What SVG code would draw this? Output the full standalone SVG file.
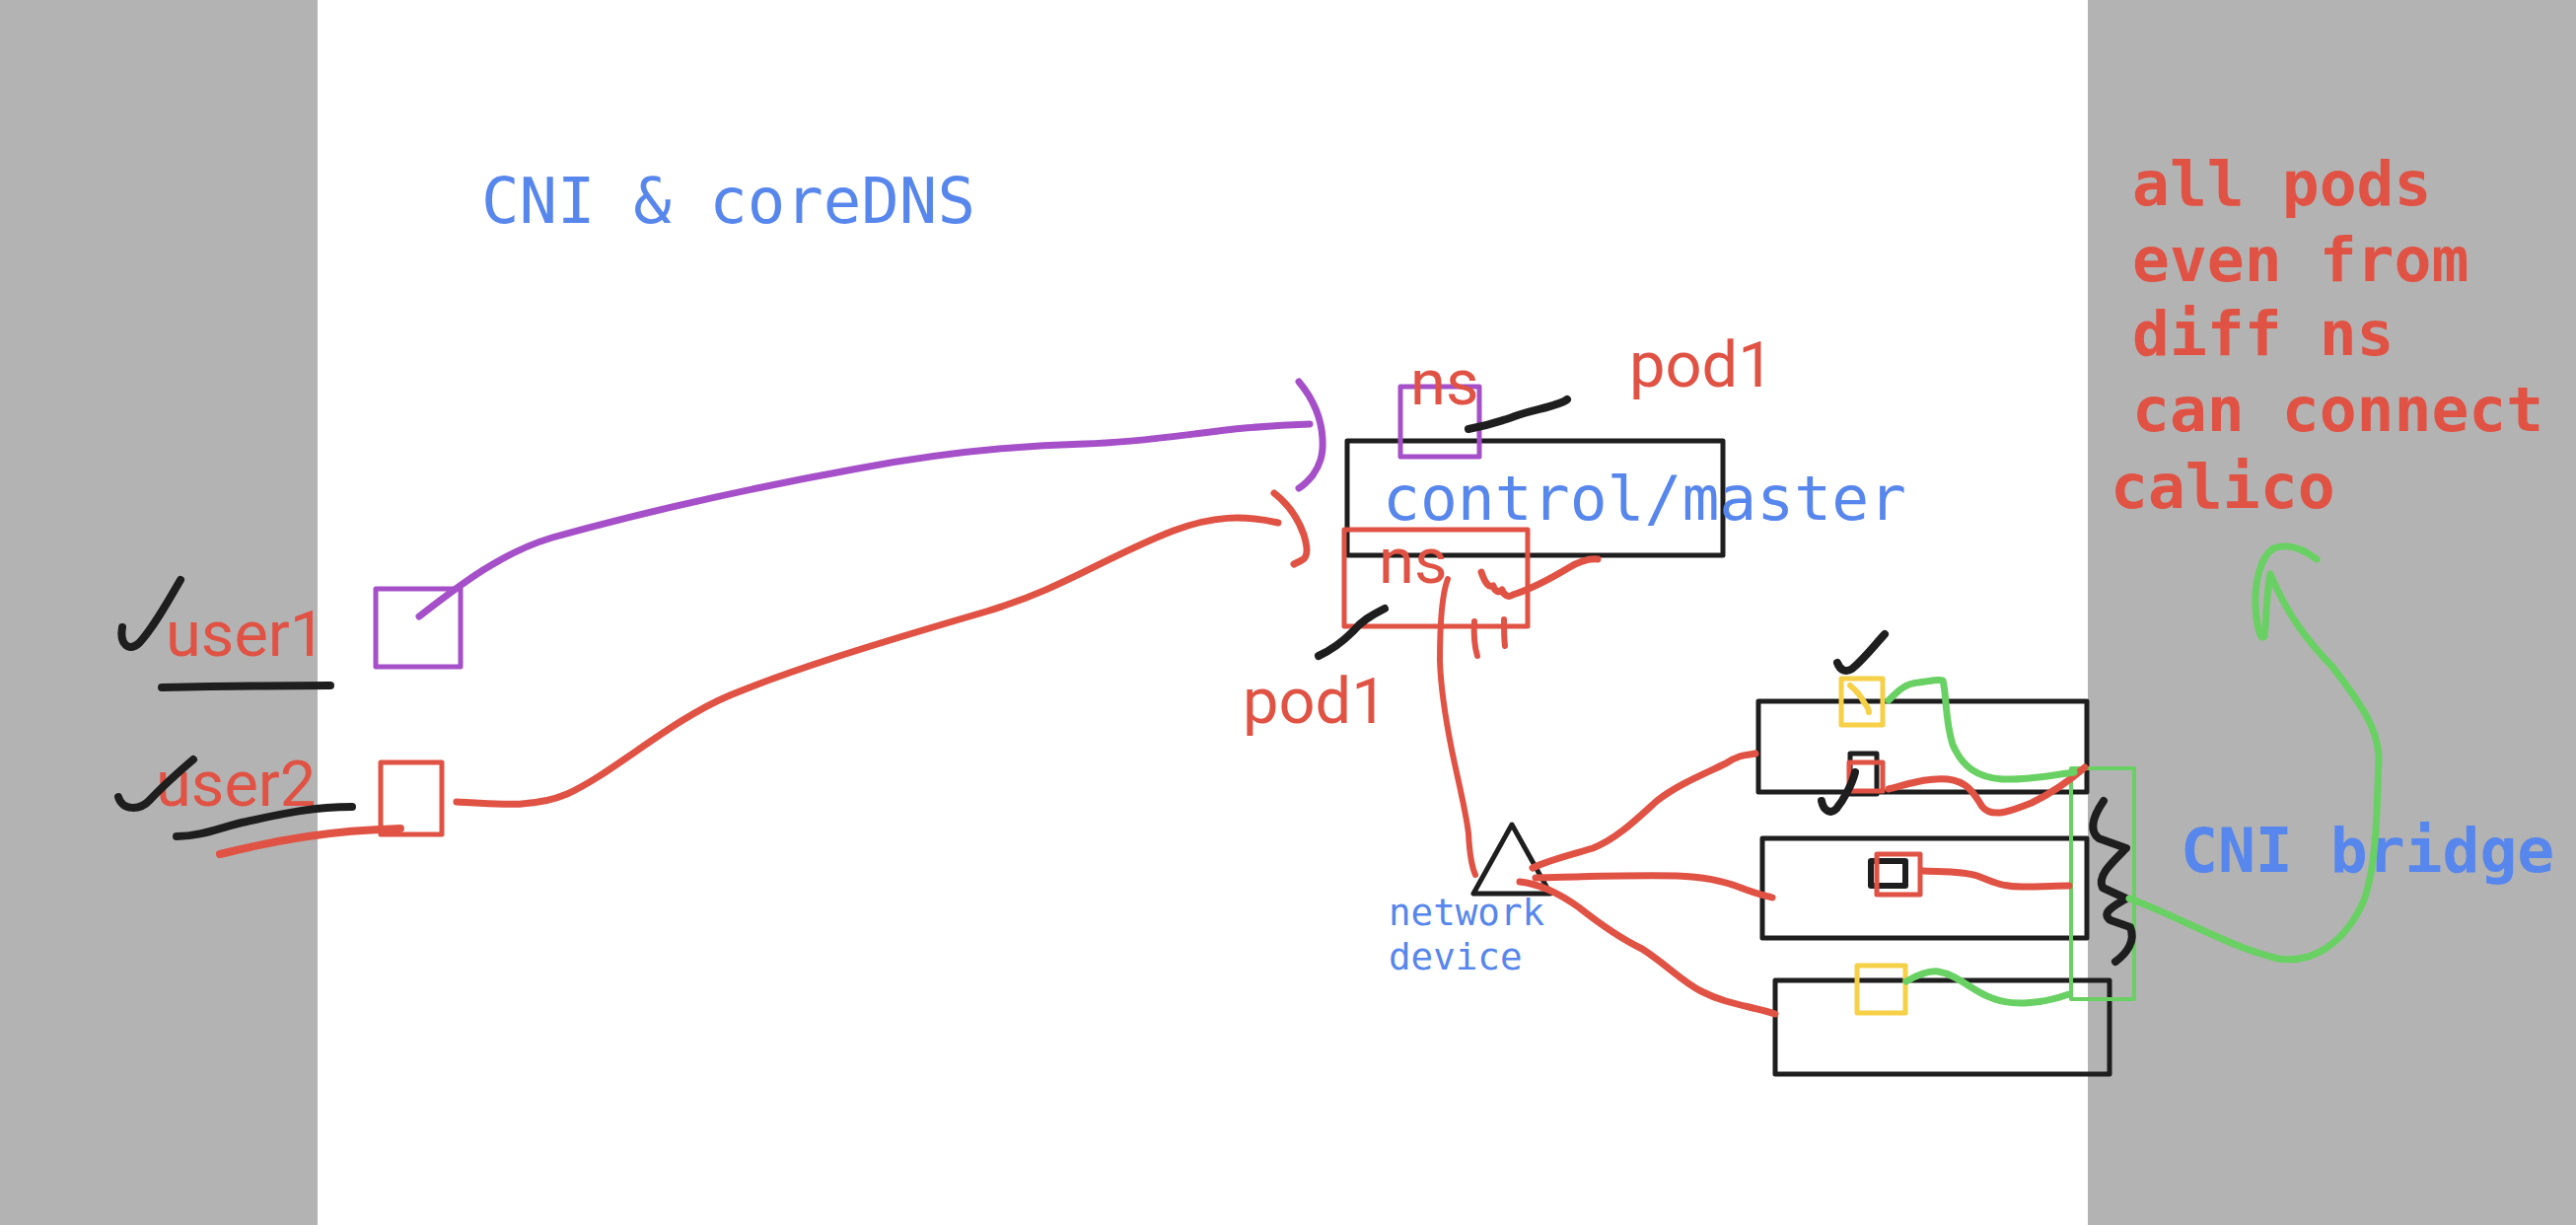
<svg xmlns="http://www.w3.org/2000/svg" width="2612" height="1242" viewBox="0 0 2612 1242">
<style>
.pen{fill:none;stroke-linecap:round;stroke-linejoin:round}
.blk{stroke:#1e1e1e}
.red{stroke:#e05244}
.pur{stroke:#a54fc8}
.grn{stroke:#69d163}
.yel{stroke:#f6d047}
.box{fill:none;stroke-linejoin:round}
.roboto{font-family:Roboto,'Liberation Sans',sans-serif;font-size:65px;fill:#e05244}
.mono{font-family:'DejaVu Sans Mono','Liberation Mono',monospace;fill:#5786ec}
.note{font-family:'DejaVu Sans Mono','Liberation Mono',monospace;font-weight:bold;font-size:63px}
</style>
<rect x="0" y="0" width="2612" height="1242" fill="#ffffff"/>
<rect x="0" y="0" width="322" height="1242" fill="#b3b3b3"/>
<rect x="2117" y="0" width="495" height="1242" fill="#b3b3b3"/>

<g id="title">
<text class="mono" x="488" y="226" font-size="64">CNI &amp; coreDNS</text>
</g>

<g id="notes">
<text class="note" fill="#e05244" x="2162" y="208">all pods</text>
<text class="note" fill="#e05244" x="2162" y="285">even from</text>
<text class="note" fill="#e05244" x="2162" y="360">diff ns</text>
<text class="note" fill="#e05244" x="2162" y="437">can connect</text>
<text class="note" fill="#e05244" x="2140" y="515">calico</text>
</g>

<g id="user1">
<text class="roboto" x="168" y="665">user1</text>
<rect class="box pur" x="381" y="597" width="86" height="79" stroke-width="5"/>
<path class="pen blk" stroke-width="8" d="M124,636 C121,652 130,662 141,652 C156,636 170,610 183,588"/>
<path class="pen blk" stroke-width="8" d="M164,697 C220,696 280,695 335,695"/>
</g>

<g id="user2">
<text class="roboto" x="158" y="817">user2</text>
<rect class="box red" x="386" y="773" width="62" height="73" stroke-width="5"/>
<path class="pen blk" stroke-width="8" d="M120,808 C124,822 142,822 152,811 C166,796 182,782 196,770"/>
<path class="pen blk" stroke-width="8" d="M179,848 C205,848 225,838 250,833 C290,824 320,818 357,818"/>
<path class="pen red" stroke-width="8" d="M223,866 C255,858 285,852 312,848 C345,843 375,841 406,840"/>
</g>

<g id="control-master">
<rect class="box blk" x="1366" y="447" width="381" height="116" stroke-width="5"/>
<text class="mono" x="1402" y="527" font-size="63">control/master</text>
</g>

<g id="pod-ns-purple">
<rect class="box pur" x="1420" y="392" width="80" height="71" stroke-width="5"/>
<text class="roboto" x="1430" y="410">ns</text>
<text class="roboto" x="1652" y="392">pod1</text>
<path class="pen blk" stroke-width="8" d="M1489,435 C1505,432 1520,428 1536,422 C1555,415 1580,412 1589,405"/>
</g>

<g id="pod-ns-red">
<rect class="box red" x="1363" y="537" width="186" height="98" stroke-width="5"/>
<text class="roboto" x="1398" y="591">ns</text>
<text class="roboto" x="1260" y="733">pod1</text>
<path class="pen blk" stroke-width="8" d="M1404,617 C1390,624 1380,630 1372,640 C1360,652 1348,660 1337,665"/>
<path class="pen red" stroke-width="7" d="M1502,580 C1506,592 1510,596 1514,594 C1516,600 1520,601 1523,598 C1525,604 1530,606 1534,603 C1550,598 1570,588 1590,576 C1600,570 1610,566 1620,567"/>
<path class="pen red" stroke-width="6" d="M1495,630 C1494,645 1495,655 1498,665"/>
<path class="pen red" stroke-width="6" d="M1525,628 C1525,640 1525,648 1526,655"/>
</g>

<g id="network-device">
<path class="box blk" stroke-width="5" d="M1533,836 L1494,906 L1572,906 Z"/>
<text class="mono" x="1408" y="938" font-size="37.5">network</text>
<text class="mono" x="1408" y="983" font-size="37.5">device</text>
</g>

<g id="worker1">
<rect class="box blk" x="1783" y="711" width="333" height="92" stroke-width="5"/>
<rect class="box yel" x="1867" y="688" width="42" height="47" stroke-width="5"/>
<path class="pen yel" stroke-width="6" d="M1876,695 C1882,700 1888,708 1890,712 C1893,716 1895,720 1895,722"/>
<path class="pen blk" stroke-width="8" d="M1863,672 C1866,680 1872,682 1878,678 C1890,668 1900,655 1911,643"/>
<rect class="box blk" x="1876" y="764" width="27" height="41" stroke-width="5"/>
<rect class="box red" x="1875" y="773" width="34" height="29" stroke-width="5"/>
<path class="pen blk" stroke-width="8" d="M1847,812 C1849,822 1856,826 1862,820 C1870,810 1878,795 1881,783"/>
</g>

<g id="worker2">
<rect class="box blk" x="1787" y="850" width="329" height="101" stroke-width="5"/>
<rect class="box blk" x="1897" y="873" width="35" height="25" stroke-width="6"/>
<rect class="box red" x="1903" y="866" width="44" height="41" stroke-width="5"/>
</g>

<g id="worker3">
<rect class="box blk" x="1800" y="994" width="339" height="95" stroke-width="5"/>
<rect class="box yel" x="1883" y="979" width="49" height="48" stroke-width="5"/>
</g>

<g id="cni-bridge">
<rect class="box grn" x="2100" y="779" width="64" height="234" stroke-width="4"/>
<path class="pen blk" stroke-width="8" d="M2133,812 C2122,828 2118,842 2128,850 L2156,860 C2142,874 2126,888 2132,900 L2156,911 C2142,919 2130,926 2140,933 L2160,940 C2166,954 2156,967 2145,975"/>
<text class="note" fill="#5786ec" x="2211" y="884">CNI bridge</text>
</g>

<g id="connectors">
<path class="pen pur" stroke-width="7" d="M425,625 C470,590 510,560 560,545 C650,520 760,495 870,475 C950,460 1020,452 1100,450 C1180,448 1240,432 1328,430"/>
<path class="pen pur" stroke-width="7" d="M1317,387 C1332,405 1340,425 1341,445 C1342,462 1338,472 1331,482 C1326,488 1322,492 1317,495"/>
<path class="pen red" stroke-width="7" d="M463,813 C500,815 540,820 575,805 C620,785 680,730 740,705 C800,680 880,655 1000,620 C1080,596 1120,565 1190,538 C1230,523 1260,522 1296,530"/>
<path class="pen red" stroke-width="7" d="M1292,500 C1305,510 1316,525 1322,542 C1326,555 1327,565 1320,568 C1316,570 1314,571 1312,572"/>
<path class="pen red" stroke-width="6" d="M1468,587 C1461,605 1460,640 1460,670 C1461,700 1466,730 1472,760 C1478,790 1486,820 1489,845 C1490,865 1492,878 1496,887"/>
<path class="pen red" stroke-width="7" d="M1554,880 C1570,872 1595,866 1615,860 C1640,850 1660,830 1680,812 C1700,796 1725,786 1750,774 C1765,764 1772,766 1780,764"/>
<path class="pen red" stroke-width="7" d="M1557,890 C1600,889 1650,887 1700,888 C1730,889 1750,894 1765,900 C1780,906 1790,908 1797,910"/>
<path class="pen red" stroke-width="7" d="M1541,894 C1560,896 1580,905 1601,920 C1620,935 1640,950 1665,962 C1690,978 1705,995 1725,1005 C1750,1018 1775,1020 1800,1028"/>
<path class="pen red" stroke-width="7" d="M1915,800 C1935,795 1955,788 1975,790 C1995,792 2002,805 2010,818 C2020,830 2040,822 2060,814 C2085,802 2100,790 2114,778"/>
<path class="pen red" stroke-width="7" d="M1949,883 C1970,884 1990,883 2005,888 C2020,894 2030,899 2050,899 C2070,899 2085,898 2098,898"/>
<path class="pen grn" stroke-width="7" d="M1915,710 C1925,700 1932,693 1945,692 C1955,691 1965,688 1970,690 C1974,705 1972,730 1980,755 C1990,778 2005,788 2030,790 C2055,791 2080,786 2103,783"/>
<path class="pen grn" stroke-width="7" d="M1933,995 C1945,988 1955,984 1965,985 C1985,988 2000,1005 2020,1012 C2040,1020 2070,1018 2098,1008"/>
<path class="pen grn" stroke-width="7" d="M2159,911 C2200,925 2260,960 2310,972 C2350,978 2380,950 2396,915 C2410,880 2410,820 2412,770 C2412,740 2395,715 2365,676 C2340,650 2320,625 2302,582 C2298,600 2298,630 2296,645 C2292,650 2288,635 2287,615 C2286,590 2292,565 2305,556 C2320,550 2335,556 2349,567"/>
</g>
</svg>
